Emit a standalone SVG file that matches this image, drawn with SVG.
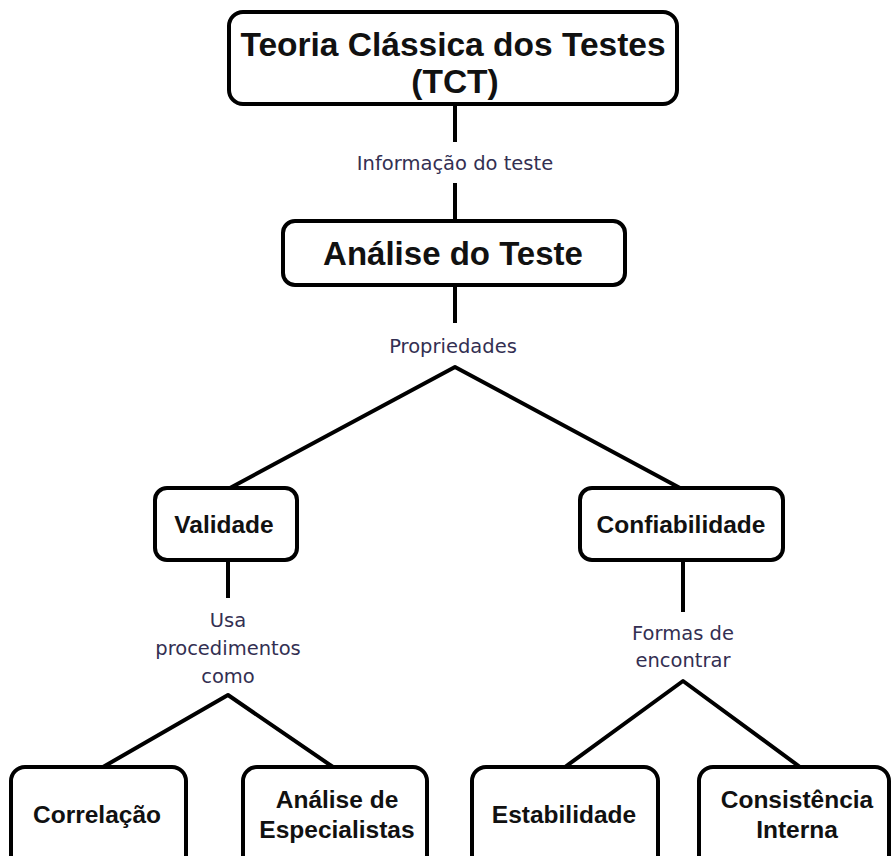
<svg xmlns="http://www.w3.org/2000/svg" width="892" height="856" viewBox="0 0 892 856">
<style>
.box{fill:#fff;stroke:#000;stroke-width:4}
.nt{font-family:"Liberation Sans",Arial,sans-serif;font-weight:bold;fill:#111;text-anchor:middle}
.lb{font-family:"DejaVu Sans",Verdana,sans-serif;font-size:19.5px;fill:#332f52;text-anchor:middle}
.cn{fill:none;stroke:#000;stroke-width:4;stroke-linejoin:round}
</style>
<rect width="892" height="856" fill="#fff"/>
<g id="connectors">
<line class="cn" x1="455" y1="104" x2="455" y2="142"/>
<line class="cn" x1="455" y1="183" x2="455" y2="221"/>
<line class="cn" x1="455" y1="285" x2="455" y2="323"/>
<polyline class="cn" points="230,488 455,367 680,488"/>
<line class="cn" x1="228" y1="560" x2="228" y2="598"/>
<polyline class="cn" points="103,767 228,695 333,767"/>
<line class="cn" x1="683" y1="560" x2="683" y2="612"/>
<polyline class="cn" points="565,767 683,681 800,767"/>
</g>
<g id="labels">
<text class="lb" x="455" y="170">Informação do teste</text>
<text class="lb" x="453" y="353">Propriedades</text>
<text class="lb" x="228" y="627">Usa</text>
<text class="lb" x="228" y="655">procedimentos</text>
<text class="lb" x="228" y="683">como</text>
<text class="lb" x="683" y="640">Formas de</text>
<text class="lb" x="683" y="667">encontrar</text>
</g>
<g id="tct">
<rect class="box" x="229" y="12" width="448" height="92" rx="14"/>
<text class="nt" x="453" y="56" font-size="33.5">Teoria Clássica dos Testes</text>
<text class="nt" x="455" y="93" font-size="33.5">(TCT)</text>
</g>
<g id="analise">
<rect class="box" x="283" y="221" width="342" height="64" rx="12"/>
<text class="nt" x="453" y="265" font-size="33">Análise do Teste</text>
</g>
<g id="validade">
<rect class="box" x="155" y="488" width="142" height="72" rx="12"/>
<text class="nt" x="224" y="533" font-size="24.5">Validade</text>
</g>
<g id="confiabilidade">
<rect class="box" x="580" y="488" width="203" height="72" rx="12"/>
<text class="nt" x="681" y="533" font-size="24.5">Confiabilidade</text>
</g>
<g id="correlacao">
<rect class="box" x="11" y="767" width="175" height="110" rx="14"/>
<text class="nt" x="97" y="823" font-size="24.5">Correlação</text>
</g>
<g id="especialistas">
<rect class="box" x="243" y="767" width="184" height="110" rx="14"/>
<text class="nt" x="337" y="808" font-size="24.5">Análise de</text>
<text class="nt" x="337" y="838" font-size="24.5">Especialistas</text>
</g>
<g id="estabilidade">
<rect class="box" x="472" y="767" width="186" height="110" rx="14"/>
<text class="nt" x="564" y="823" font-size="24.5">Estabilidade</text>
</g>
<g id="consistencia">
<rect class="box" x="699" y="767" width="190" height="110" rx="14"/>
<text class="nt" x="797" y="808" font-size="24.5">Consistência</text>
<text class="nt" x="797" y="838" font-size="24.5">Interna</text>
</g>
</svg>
